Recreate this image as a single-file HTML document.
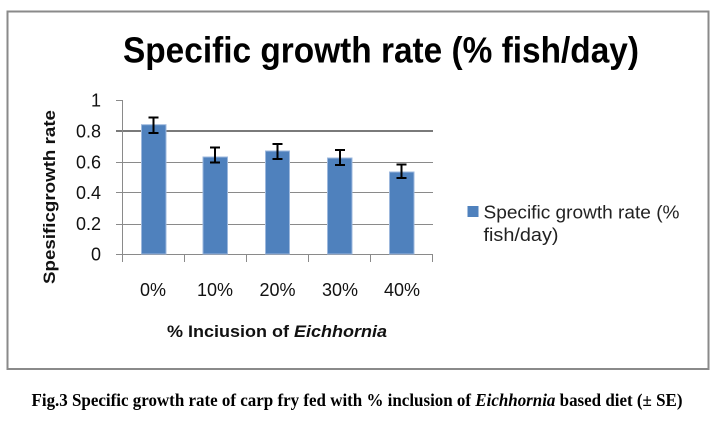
<!DOCTYPE html>
<html>
<head>
<meta charset="utf-8">
<style>
  html, body { margin: 0; padding: 0; background: #ffffff; }
  svg { display: block; }
  text { font-family: "Liberation Sans", sans-serif; }
</style>
</head>
<body>
<svg width="717" height="428" viewBox="0 0 717 428" xmlns="http://www.w3.org/2000/svg">
  <rect x="0" y="0" width="717" height="428" fill="#ffffff"/>
  <!-- outer border -->
  <rect x="7.5" y="11.5" width="701" height="357.5" fill="none" stroke="#8a8a8a" stroke-width="2"/>

  <!-- title -->
  <text x="123" y="62.5" font-size="36" font-weight="bold" fill="#000" textLength="516" lengthAdjust="spacingAndGlyphs">Specific growth rate (% fish/day)</text>

  <!-- gridlines -->
  <g stroke="#8a8a8a" stroke-width="1">
    <line x1="116" y1="224.5" x2="433" y2="224.5"/>
    <line x1="116" y1="192.5" x2="433" y2="192.5"/>
    <line x1="116" y1="162.5" x2="433" y2="162.5"/>
    <line x1="116" y1="254.5" x2="433" y2="254.5"/>
  </g>
  <line x1="116" y1="131" x2="433" y2="131" stroke="#7a7a7a" stroke-width="2"/>
  <!-- y axis -->
  <line x1="122.5" y1="100" x2="122.5" y2="262" stroke="#8a8a8a" stroke-width="1"/>
  <line x1="116" y1="100.5" x2="122.5" y2="100.5" stroke="#8a8a8a" stroke-width="1"/>
  <!-- x ticks -->
  <g stroke="#8a8a8a" stroke-width="1">
    <line x1="184.5" y1="254" x2="184.5" y2="262"/>
    <line x1="246.5" y1="254" x2="246.5" y2="262"/>
    <line x1="308.5" y1="254" x2="308.5" y2="262"/>
    <line x1="370.5" y1="254" x2="370.5" y2="262"/>
    <line x1="432.5" y1="254" x2="432.5" y2="262"/>
  </g>

  <!-- bars -->
  <g fill="#4F81BD" stroke="#9db8dd" stroke-width="1">
    <rect x="141.5" y="124.7" width="24.5" height="129.3"/>
    <rect x="203" y="157" width="24.5" height="97"/>
    <rect x="265.5" y="151" width="24" height="103"/>
    <rect x="327.5" y="158" width="24.5" height="96"/>
    <rect x="389.5" y="172" width="24.5" height="82"/>
  </g>

  <!-- error bars -->
  <g stroke="#000" stroke-width="2" fill="none">
    <line x1="153.5" y1="117.5" x2="153.5" y2="133"/>
    <line x1="148.5" y1="117.5" x2="158.5" y2="117.5"/>
    <line x1="148.5" y1="133" x2="158.5" y2="133"/>

    <line x1="215" y1="147.5" x2="215" y2="162.5"/>
    <line x1="210" y1="147.5" x2="220" y2="147.5"/>
    <line x1="210" y1="162.5" x2="220" y2="162.5"/>

    <line x1="277.5" y1="144" x2="277.5" y2="159"/>
    <line x1="272.5" y1="144" x2="282.5" y2="144"/>
    <line x1="272.5" y1="159" x2="282.5" y2="159"/>

    <line x1="340" y1="150" x2="340" y2="165"/>
    <line x1="335" y1="150" x2="345" y2="150"/>
    <line x1="335" y1="165" x2="345" y2="165"/>

    <line x1="401.5" y1="164.5" x2="401.5" y2="178"/>
    <line x1="396.5" y1="164.5" x2="406.5" y2="164.5"/>
    <line x1="396.5" y1="178" x2="406.5" y2="178"/>
  </g>

  <!-- y tick labels -->
  <g font-size="18" fill="#111" text-anchor="end">
    <text x="101" y="106.5">1</text>
    <text x="101" y="137.5">0.8</text>
    <text x="101" y="168.5">0.6</text>
    <text x="101" y="199">0.4</text>
    <text x="101" y="230">0.2</text>
    <text x="101" y="260.5">0</text>
  </g>

  <!-- x tick labels -->
  <g font-size="18" fill="#111" text-anchor="middle">
    <text x="153" y="296">0%</text>
    <text x="215" y="296">10%</text>
    <text x="277.5" y="296">20%</text>
    <text x="340" y="296">30%</text>
    <text x="402" y="296">40%</text>
  </g>

  <!-- x axis title -->
  <text x="167" y="337" font-size="17" font-weight="bold" fill="#111" textLength="220" lengthAdjust="spacingAndGlyphs">% Inciusion of <tspan font-style="italic">Eichhornia</tspan></text>

  <!-- y axis title -->
  <text transform="translate(55,197) rotate(-90)" x="0" y="0" font-size="17" font-weight="bold" fill="#111" text-anchor="middle" textLength="174" lengthAdjust="spacingAndGlyphs">Spesificgrowth rate</text>

  <!-- legend -->
  <rect x="467.5" y="206" width="11" height="11" fill="#4F81BD"/>
  <text x="483.5" y="218.3" font-size="18" fill="#222" textLength="196" lengthAdjust="spacingAndGlyphs">Specific growth rate (%</text>
  <text x="483.5" y="241" font-size="18" fill="#222" textLength="75" lengthAdjust="spacingAndGlyphs">fish/day)</text>

  <!-- caption -->
  <text x="31.5" y="406" font-size="18" font-weight="bold" fill="#000" textLength="651" lengthAdjust="spacingAndGlyphs" style="font-family:'Liberation Serif', serif">Fig.3 Specific growth rate of carp fry fed with % inclusion of <tspan font-style="italic">Eichhornia</tspan> based diet (± SE)</text>
</svg>
</body>
</html>
